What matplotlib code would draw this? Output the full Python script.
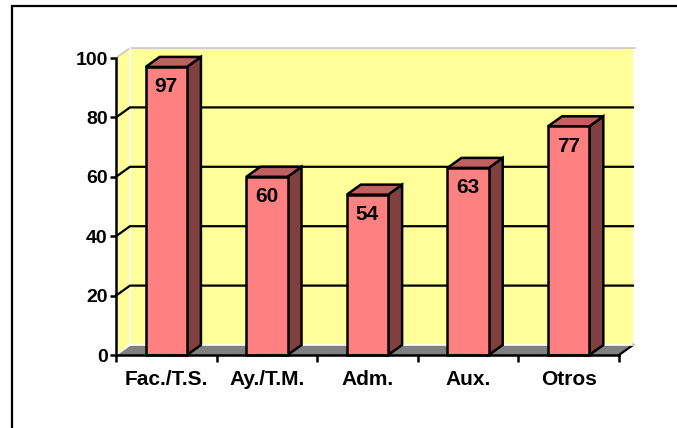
import numpy as np
import matplotlib
matplotlib.use("Agg")
import matplotlib.pyplot as plt
from matplotlib.patches import Polygon, Rectangle

# datos
categorias = ["Fac./T.S.", "Ay./T.M.", "Adm.", "Aux.", "Otros"]
valores = [97, 60, 54, 63, 77]
yticks = [0, 20, 40, 60, 80, 100]

# colores estilo Excel
c_pared = "#FFFF99"
c_suelo = "#808080"
c_frente = "#FF8080"
c_tapa = "#C06060"
c_lado = "#804040"

W, H = 677, 428
fig = plt.figure(figsize=(W / 100, H / 100), dpi=100)
plt.rcParams['font.family'] = ['Liberation Sans', 'DejaVu Sans']

# marco exterior (solo se ven borde izquierdo y superior)
fig.patches.append(Rectangle((12 / W, -0.2), 1.2, 1 - 6 / H + 0.2, transform=fig.transFigure,
                             fill=False, edgecolor="black", linewidth=1.6))

# plano frontal
x0, x1 = 116, 619
y0, y1 = 355, 58
ax = fig.add_axes([x0 / W, (H - y0) / H, (x1 - x0) / W, (y0 - y1) / H])
n = len(categorias)
ax.set_xlim(0, n)
ax.set_ylim(0, 100)
ax.set_facecolor("none")

# profundidad en unidades de datos
DX = 14 / (x1 - x0) * n
DY = 10 / (y0 - y1) * 100

# pared de fondo
ax.add_patch(Polygon([(DX, DY), (n + DX, DY), (n + DX, 100 + DY), (DX, 100 + DY)],
                     closed=True, facecolor=c_pared, edgecolor="none", clip_on=False, zorder=1))
# pared lateral
ax.add_patch(Polygon([(0, 0), (DX, DY), (DX, 100 + DY), (0, 100)],
                     closed=True, facecolor=c_pared, edgecolor="none", clip_on=False, zorder=1))
# suelo
ax.add_patch(Polygon([(0, 0), (n, 0), (n + DX, DY), (DX, DY)],
                     closed=True, facecolor=c_suelo, edgecolor="none", clip_on=False, zorder=1))
ax.plot([n, n + DX], [0, DY], color="black", lw=1.6, clip_on=False, zorder=2)

# bordes claros de las paredes
ax.plot([0, DX, n + DX + 0.02], [100, 100 + DY, 100 + DY], color="#C8C8C8", lw=1.2,
        clip_on=False, zorder=2)
ax.plot([DX, DX, n + DX], [100 + DY, DY, DY], color="white", lw=1.2, clip_on=False, zorder=2)
ax.plot([0, DX], [0, DY], color="white", lw=1.2, clip_on=False, zorder=2)

# lineas de division
for v in yticks[1:-1]:
    ax.plot([0, DX, n + DX], [v, v + DY, v + DY], color="black", lw=1.6,
            clip_on=False, zorder=2)

# barras 3D
w = 0.41
for i, v in enumerate(valores):
    c = i + 0.5
    xl, xr = c - w / 2, c + w / 2
    ax.add_patch(Polygon([(xr, 0), (xr + DX, DY), (xr + DX, v + DY), (xr, v)], closed=True,
                         facecolor=c_lado, edgecolor="black", lw=1.8, clip_on=False, zorder=3))
    ax.add_patch(Polygon([(xl, v), (xr, v), (xr + DX, v + DY), (xl + DX, v + DY)], closed=True,
                         facecolor=c_tapa, edgecolor="black", lw=1.8, clip_on=False, zorder=3))
    ax.add_patch(Rectangle((xl, 0), w, v, facecolor=c_frente, edgecolor="black", lw=1.8,
                           clip_on=False, zorder=4))
    ax.annotate(str(v), xy=(c, v), xytext=(0, -20), textcoords="offset pixels",
                ha="center", va="center", fontsize=15, fontweight="bold", zorder=5)

# ejes
for s in ["top", "right"]:
    ax.spines[s].set_visible(False)
for s in ["left", "bottom"]:
    ax.spines[s].set_linewidth(1.8)
    ax.spines[s].set_zorder(6)
ax.set_yticks(yticks)
ax.set_yticklabels([str(t) for t in yticks], fontsize=14, fontweight="bold")
ax.set_xticks(np.arange(n + 1))
ax.set_xticklabels([])
ax.set_xticks(np.arange(n) + 0.5, minor=True)
ax.set_xticklabels(categorias, minor=True, fontsize=15, fontweight="bold")
ax.tick_params(axis="y", direction="out", length=4, width=1.8, pad=2)
ax.tick_params(axis="x", which="major", direction="out", length=5, width=1.8)
ax.tick_params(axis="x", which="minor", length=0, pad=11)

fig.savefig("out.png", dpi=100)
